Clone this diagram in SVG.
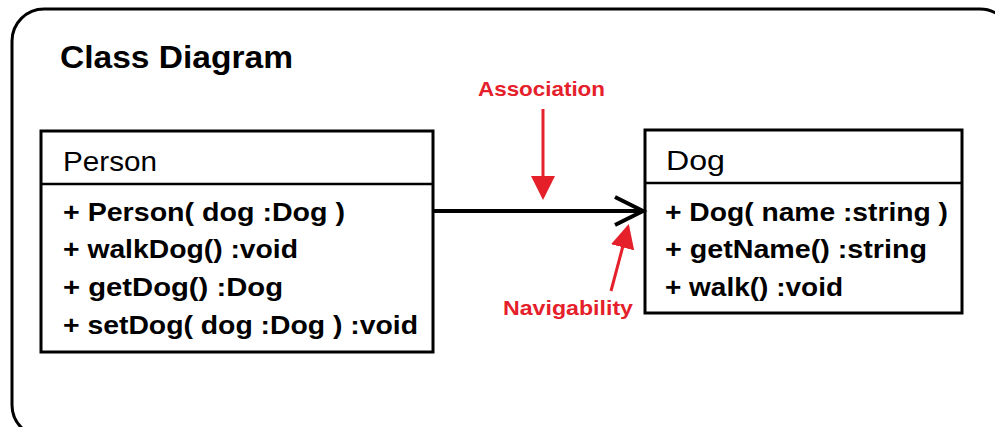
<svg xmlns="http://www.w3.org/2000/svg" width="995" height="427" viewBox="0 0 995 427">
  <style>
    .frame { fill: none; stroke: #000; stroke-width: 3; }
    .box { fill: #fff; stroke: #000; stroke-width: 3; }
    .divider { stroke: #000; stroke-width: 2.5; }
    .title { font-family: "Liberation Sans", Arial, sans-serif; font-weight: bold; font-size: 32px; fill: #000; }
    .cls { font-family: "Liberation Sans", Arial, sans-serif; font-size: 28px; fill: #000; }
    .member { font-family: "Liberation Sans", Arial, sans-serif; font-weight: bold; font-size: 25px; fill: #000; }
    .note { font-family: "Liberation Sans", Arial, sans-serif; font-weight: bold; font-size: 21px; fill: #e5202b; }
    .assoc { fill: none; stroke: #000; stroke-width: 4; }
    .pointer { stroke: #e5202b; stroke-width: 3; fill: none; }
  </style>
  <defs>
    <marker id="redHead" markerWidth="8" markerHeight="8" refX="7" refY="4" orient="auto" markerUnits="strokeWidth">
      <path d="M0,0 L8,4 L0,8 Z" fill="#e5202b"/>
    </marker>
  </defs>

  <rect width="995" height="427" fill="#fff"/>

  <!-- outer frame -->
  <rect class="frame" x="12" y="9" width="1000" height="428" rx="32" ry="32"/>

  <text class="title" x="60" y="68" textLength="233" lengthAdjust="spacingAndGlyphs">Class Diagram</text>

  <!-- Person class -->
  <g id="person">
    <rect class="box" x="41" y="131" width="392" height="221"/>
    <line class="divider" x1="41" y1="184" x2="433" y2="184"/>
    <text class="cls" x="63" y="171" textLength="94" lengthAdjust="spacingAndGlyphs">Person</text>
    <text class="member" x="63" y="221" textLength="282" lengthAdjust="spacingAndGlyphs">+ Person( dog :Dog )</text>
    <text class="member" x="63" y="258" textLength="235" lengthAdjust="spacingAndGlyphs">+ walkDog() :void</text>
    <text class="member" x="63" y="296" textLength="220" lengthAdjust="spacingAndGlyphs">+ getDog() :Dog</text>
    <text class="member" x="63" y="334" textLength="355" lengthAdjust="spacingAndGlyphs">+ setDog( dog :Dog ) :void</text>
  </g>

  <!-- Dog class -->
  <g id="dog">
    <rect class="box" x="645" y="130" width="317" height="183"/>
    <line class="divider" x1="645" y1="183" x2="962" y2="183"/>
    <text class="cls" x="666" y="170" textLength="59" lengthAdjust="spacingAndGlyphs">Dog</text>
    <text class="member" x="665" y="221" textLength="283" lengthAdjust="spacingAndGlyphs">+ Dog( name :string )</text>
    <text class="member" x="665" y="258" textLength="262" lengthAdjust="spacingAndGlyphs">+ getName() :string</text>
    <text class="member" x="665" y="296" textLength="178" lengthAdjust="spacingAndGlyphs">+ walk() :void</text>
  </g>

  <!-- connectors -->
  <g id="connectors">
    <line class="assoc" x1="433" y1="211" x2="642" y2="211"/>
    <polyline class="assoc" points="615,197 643,211 615,225" stroke-linejoin="miter"/>
    <line class="pointer" x1="543" y1="109" x2="543" y2="197" marker-end="url(#redHead)"/>
    <line class="pointer" x1="611" y1="291" x2="628" y2="227" marker-end="url(#redHead)"/>
  </g>

  <!-- annotations -->
  <g id="labels">
    <text class="note" x="478" y="96" textLength="127" lengthAdjust="spacingAndGlyphs">Association</text>
    <text class="note" x="503" y="315" textLength="130" lengthAdjust="spacingAndGlyphs">Navigability</text>
  </g>
</svg>
